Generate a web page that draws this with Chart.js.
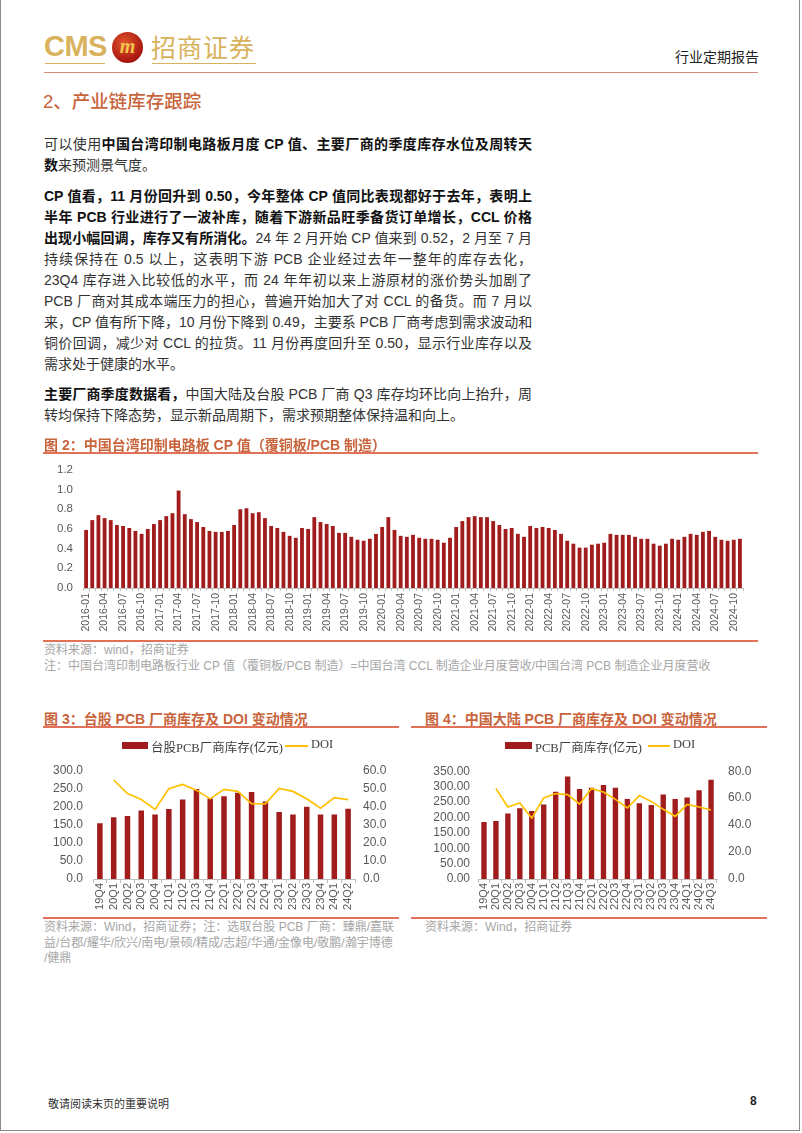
<!DOCTYPE html>
<html>
<head>
<meta charset="utf-8">
<script src="https://cdn.jsdelivr.net/npm/chart.js@4.4.1/dist/chart.umd.min.js"></script>
<style>
body{margin:0;width:802px;height:1133px;position:relative;background:#fff;overflow:hidden;
  font-family:"Liberation Sans",Arial,"Noto Sans CJK SC",sans-serif;}
.abs{position:absolute}
.frame{position:absolute;left:0;top:-2px;width:800px;height:1133px;border:1px solid #8a8a8a;box-sizing:border-box}
.gold{color:#d8b25c}
.ln{width:488px;height:21px;line-height:21px;font-size:14px;color:#333;white-space:nowrap;
  text-align:justify;text-align-last:justify;font-family:"Liberation Sans",Arial,"Noto Sans CJK SC",sans-serif}
.ln.last{text-align-last:left}
.ln b{color:#111}
.ctitle{font-size:14px;font-weight:bold;color:#c8643c;white-space:nowrap}
.rline{height:0;border-top:2px solid #e2715a}
.src{font-size:12px;color:#a6a6a6;line-height:15.5px;white-space:nowrap}
.leg{font-family:"Liberation Serif","Noto Sans CJK SC",serif;font-size:12.5px;color:#404040;white-space:nowrap}
</style>
</head>
<body>
<div class="frame"></div>

<!-- header -->
<div class="abs gold" style="left:44px;top:30px;font-family:'Liberation Sans Narrow','Liberation Sans',sans-serif;font-size:29px;font-weight:bold;letter-spacing:-0.5px;line-height:32px">CMS</div>
<div class="abs" style="left:112px;top:32px;width:31px;height:31px;border-radius:50%;background:radial-gradient(circle at 40% 35%,#e0552a,#a8160f 70%);text-align:center;line-height:29px;font-family:'Liberation Serif',serif;font-style:italic;font-weight:bold;font-size:20px;color:#f2c64c">m</div>
<div class="abs gold" style="left:151px;top:30px;font-family:'Noto Sans CJK SC',sans-serif;font-size:25px;line-height:32px;letter-spacing:1px">招商证券</div>
<div class="abs" style="left:45px;top:63px;width:60px;border-top:1px solid #d8b25c"></div>
<div class="abs" style="left:152px;top:63px;width:104px;border-top:1px solid #d8b25c"></div>
<div class="abs" style="left:675px;top:46px;font-family:'Noto Sans CJK SC',sans-serif;font-size:14px;color:#222">行业定期报告</div>
<div class="abs" style="left:44px;top:72px;width:714px;border-top:1px solid #d98a7e"></div>

<!-- section heading -->
<div class="abs" style="left:43px;top:87px;font-family:'Liberation Sans','Noto Sans CJK SC',sans-serif;font-size:18.5px;color:#c8643c;font-weight:500">2、产业链库存跟踪</div>

<!-- body text -->
<div class="abs" style="left:44px;top:134px">
  <div class="ln">可以使用<b>中国台湾印制电路板月度 CP 值、主要厂商的季度库存水位及周转天</b></div>
  <div class="ln last"><b>数</b>来预测景气度。</div>
</div>
<div class="abs" style="left:44px;top:186px">
  <div class="ln"><b>CP 值看，11 月份回升到 0.50，今年整体 CP 值同比表现都好于去年，表明上</b></div>
  <div class="ln"><b>半年 PCB 行业进行了一波补库，随着下游新品旺季备货订单增长，CCL 价格</b></div>
  <div class="ln"><b>出现小幅回调，库存又有所消化。</b>24 年 2 月开始 CP 值来到 0.52，2 月至 7 月</div>
  <div class="ln">持续保持在 0.5 以上，这表明下游 PCB 企业经过去年一整年的库存去化，</div>
  <div class="ln">23Q4 库存进入比较低的水平，而 24 年年初以来上游原材的涨价势头加剧了</div>
  <div class="ln">PCB 厂商对其成本端压力的担心，普遍开始加大了对 CCL 的备货。而 7 月以</div>
  <div class="ln">来，CP 值有所下降，10 月份下降到 0.49，主要系 PCB 厂商考虑到需求波动和</div>
  <div class="ln">铜价回调，减少对 CCL 的拉货。11 月份再度回升至 0.50，显示行业库存以及</div>
  <div class="ln last">需求处于健康的水平。</div>
</div>
<div class="abs" style="left:44px;top:384px">
  <div class="ln"><b>主要厂商季度数据看，</b>中国大陆及台股 PCB 厂商 Q3 库存均环比向上抬升，周</div>
  <div class="ln last">转均保持下降态势，显示新品周期下，需求预期整体保持温和向上。</div>
</div>

<!-- figure 2 -->
<canvas id="cpChart" class="abs" style="left:40px;top:453px" width="720" height="187"></canvas>
<div class="abs ctitle" style="left:44px;top:434px">图 2：中国台湾印制电路板 CP 值（覆铜板/PCB 制造）</div>
<div class="abs rline" style="left:43px;top:452px;width:715px"></div>
<div class="abs rline" style="left:43px;top:640px;width:715px"></div>
<div class="abs src" style="left:44px;top:643px">资料来源：wind，招商证券<br>注：中国台湾印制电路板行业 CP 值（覆铜板/PCB 制造）=中国台湾 CCL 制造企业月度营收/中国台湾 PCB 制造企业月度营收</div>

<!-- figure 3 -->
<canvas id="twChart" class="abs" style="left:43px;top:753px" width="357" height="158"></canvas>
<div class="abs ctitle" style="left:44px;top:708px">图 3：台股 PCB 厂商库存及 DOI 变动情况</div>
<div class="abs rline" style="left:43px;top:726px;width:356px"></div>
<div class="abs" style="left:122px;top:742px;width:26px;height:7px;background:#a11c1c"></div>
<div class="abs leg" style="left:151px;top:737px">台股PCB厂商库存(亿元)</div>
<div class="abs" style="left:285px;top:745px;width:23px;border-top:2px solid #ffc000"></div>
<div class="abs leg" style="left:311px;top:737px">DOI</div>
<div class="abs rline" style="left:43px;top:917px;width:356px"></div>
<div class="abs src" style="left:44px;top:920px">资料来源：Wind，招商证券；注：选取台股 PCB 厂商：臻鼎/嘉联<br>益/台郡/耀华/欣兴/南电/景硕/精成/志超/华通/金像电/敬鹏/瀚宇博德<br>/健鼎</div>

<!-- figure 4 -->
<canvas id="cnChart" class="abs" style="left:420px;top:753px" width="350" height="158"></canvas>
<div class="abs ctitle" style="left:425px;top:708px">图 4：中国大陆 PCB 厂商库存及 DOI 变动情况</div>
<div class="abs rline" style="left:411px;top:726px;width:356px"></div>
<div class="abs" style="left:505px;top:742px;width:27px;height:7px;background:#a11c1c"></div>
<div class="abs leg" style="left:535px;top:737px">PCB厂商库存(亿元)</div>
<div class="abs" style="left:648px;top:745px;width:22px;border-top:2px solid #ffc000"></div>
<div class="abs leg" style="left:673px;top:737px">DOI</div>
<div class="abs rline" style="left:411px;top:917px;width:356px"></div>
<div class="abs src" style="left:425px;top:920px">资料来源：Wind，招商证券</div>

<!-- footer -->
<div class="abs" style="left:48px;top:1095px;font-family:'Noto Sans CJK SC',sans-serif;font-size:11px;color:#333">敬请阅读末页的重要说明</div>
<div class="abs" style="left:750px;top:1094px;font-size:12px;font-weight:bold;color:#222">8</div>

<script>
// monthly CP value, 2016-01 .. 2024-11
var cpValues = [
  0.59,0.69,0.74,0.71,0.69,0.64,0.63,0.61,0.58,0.55,0.60,0.65,
  0.69,0.73,0.76,0.99,0.75,0.70,0.67,0.62,0.58,0.57,0.57,0.58,
  0.64,0.80,0.81,0.76,0.77,0.71,0.63,0.61,0.57,0.53,0.51,0.61,
  0.60,0.72,0.67,0.65,0.63,0.56,0.56,0.52,0.49,0.48,0.50,0.55,
  0.62,0.72,0.59,0.53,0.52,0.54,0.51,0.50,0.50,0.49,0.46,0.51,
  0.62,0.68,0.72,0.73,0.72,0.72,0.68,0.64,0.60,0.61,0.55,0.52,
  0.63,0.61,0.62,0.61,0.59,0.55,0.48,0.45,0.41,0.41,0.44,0.45,
  0.46,0.55,0.54,0.54,0.54,0.52,0.50,0.50,0.45,0.43,0.45,0.50,
  0.49,0.52,0.55,0.54,0.57,0.58,0.52,0.49,0.48,0.49,0.50
];
var cpLabels = [];
for (var yr = 2016; yr <= 2024; yr++) {
  for (var mo = 1; mo <= 12; mo++) {
    if (cpLabels.length >= cpValues.length) break;
    cpLabels.push(yr + '-' + (mo < 10 ? '0' + mo : mo));
  }
}

// Taiwan listed PCB makers
var twQuarters = ['19Q4','20Q1','20Q2','20Q3','20Q4','21Q1','21Q2','21Q3','21Q4','22Q1','22Q2','22Q3','22Q4','23Q1','23Q2','23Q3','23Q4','24Q1','24Q2'];
var twStock = [154,170,174,189,178,193,219,248,222,228,238,240,214,185,178,199,178,178,194];
var twDoi = [null,54.6,47.1,43.8,38.4,49.8,52.2,49.0,44.2,49.4,48.3,41.6,41.4,49.9,48.3,44.2,39.1,44.9,43.8];

// mainland PCB makers
var cnQuarters = ['19Q4','20Q1','20Q2','20Q3','20Q4','21Q1','21Q2','21Q3','21Q4','22Q1','22Q2','22Q3','22Q4','23Q1','23Q2','23Q3','23Q4','24Q1','24Q2','24Q3'];
var cnStock = [185,188,213,230,221,242,283,333,292,296,305,296,260,246,240,274,260,265,288,322];
var cnDoi = [null,67.1,53.4,56.4,45.2,60.1,63.4,62.6,55.7,67.1,64.6,59.1,52.7,61.9,57.6,51.7,46.5,55.4,53.4,51.2];

var barColor = '#a11c1c';
var lineColor = '#ffc000';
var tickColor = '#595959';
var axisColor = '#bfbfbf';

Chart.defaults.font.family = '"Liberation Sans", Arial, "Noto Sans CJK SC", sans-serif';
Chart.defaults.color = tickColor;

function fixW(w) { return function (axis) { axis.width = w; }; }
function fixH(h) { return function (axis) { axis.height = h; }; }

// figure 2
new Chart(document.getElementById('cpChart'), {
  type: 'bar',
  data: {
    labels: cpLabels,
    datasets: [{ label: 'CP', data: cpValues, backgroundColor: barColor,
                 barPercentage: 0.62, categoryPercentage: 1.0 }]
  },
  options: {
    responsive: false, animation: false, devicePixelRatio: 1,
    layout: { padding: { top: 2, right: 17, left: 0, bottom: 0 } },
    plugins: { legend: { display: false }, tooltip: { enabled: false } },
    scales: {
      x: {
        grid: { display: true, drawOnChartArea: false, tickLength: 3, color: axisColor },
        border: { color: axisColor },
        ticks: {
          autoSkip: false, minRotation: 90, maxRotation: 90, padding: 2,
          font: { size: 10.5 }, color: tickColor,
          callback: function (v, i) { return i % 3 === 0 ? cpLabels[i] : ''; }
        },
        afterFit: fixH(52)
      },
      y: {
        min: 0, max: 1.2,
        grid: { display: false, drawTicks: false },
        border: { display: false },
        ticks: { stepSize: 0.2, autoSkip: false, padding: 10, font: { size: 11.5 }, color: tickColor,
                 callback: function (v) { return v.toFixed(1); } },
        afterFit: fixW(43)
      }
    }
  }
});

function stockChart(id, labels, stock, doi, left, right, leftW, rightW, leftPad, rightPad, barPct) {
  new Chart(document.getElementById(id), {
    type: 'bar',
    data: {
      labels: labels,
      datasets: [
        { type: 'line', label: 'DOI', data: doi, yAxisID: 'y1', borderColor: lineColor,
          borderWidth: 1.7, pointRadius: 0, tension: 0, order: 0, spanGaps: false },
        { type: 'bar', label: 'stock', data: stock, yAxisID: 'y', backgroundColor: barColor,
          barPercentage: barPct, categoryPercentage: 1.0, order: 1 }
      ]
    },
    options: {
      responsive: false, animation: false, devicePixelRatio: 1,
      layout: { padding: { top: 2, right: 0, left: 0, bottom: 0 } },
      plugins: { legend: { display: false }, tooltip: { enabled: false } },
      scales: {
        x: {
          grid: { display: true, drawOnChartArea: false, tickLength: 4, color: axisColor },
          border: { color: axisColor },
          ticks: { autoSkip: false, minRotation: 90, maxRotation: 90, padding: 0,
                   font: { size: 11 }, color: tickColor },
          afterFit: fixH(32)
        },
        y: {
          position: 'left', min: left.min, max: left.max,
          grid: { display: false, drawTicks: false }, border: { display: false },
          ticks: { stepSize: left.step, autoSkip: false, padding: leftPad, font: { size: 12 }, color: tickColor,
                   callback: function (v) { return v.toFixed(left.dec); } },
          afterFit: fixW(leftW)
        },
        y1: {
          position: 'right', min: right.min, max: right.max,
          grid: { display: false, drawTicks: false }, border: { display: false },
          ticks: { stepSize: right.step, autoSkip: false, padding: rightPad, font: { size: 12 }, color: tickColor,
                   callback: function (v) { return v.toFixed(right.dec); } },
          afterFit: fixW(rightW)
        }
      }
    }
  });
}

// figure 3
stockChart('twChart', twQuarters, twStock, twDoi,
  { min: 0, max: 300, step: 50, dec: 1 }, { min: 0, max: 60, step: 10, dec: 1 },
  50, 45, 10, 8, 0.4);

// figure 4
stockChart('cnChart', cnQuarters, cnStock, cnDoi,
  { min: 0, max: 350, step: 50, dec: 2 }, { min: 0, max: 80, step: 20, dec: 1 },
  58, 53, 8, 11, 0.45);
</script>
</body>
</html>
